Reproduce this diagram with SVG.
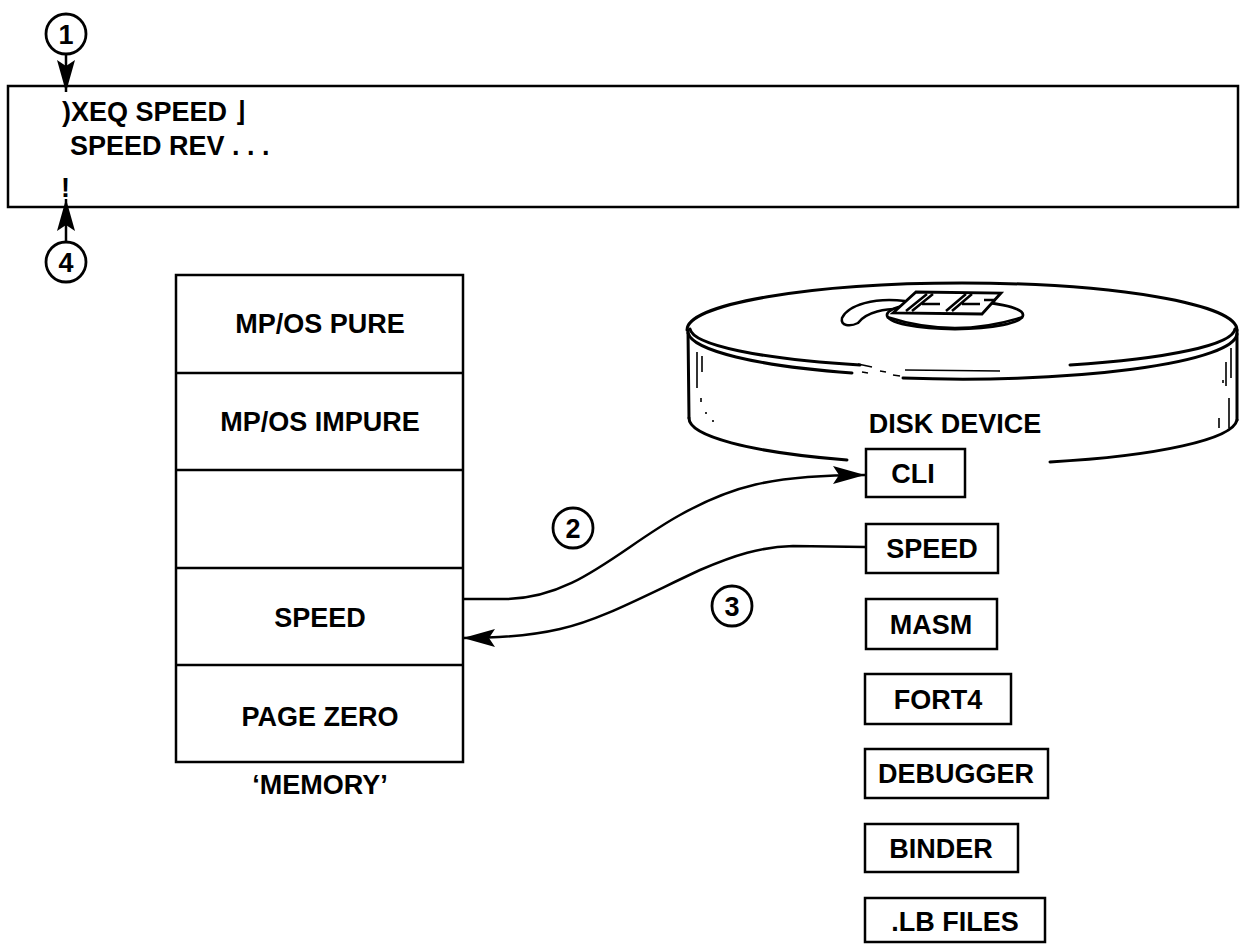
<svg xmlns="http://www.w3.org/2000/svg" width="1242" height="944" viewBox="0 0 1242 944">
  <defs>
    <marker id="arrow" markerUnits="userSpaceOnUse" markerWidth="32" markerHeight="18" refX="32" refY="9" orient="auto">
      <path d="M0,0 L32,9 L0,18 L6,9 z" fill="#000"/>
    </marker>
    <style>
      .box { fill: #fff; stroke: #000; stroke-width: 2.5; }
      .line { fill: none; stroke: #000; stroke-width: 2.5; }
      .thin { fill: none; stroke: #000; stroke-width: 1.6; }
      .disk { fill: none; stroke: #000; stroke-width: 3; stroke-linecap: round; }
      .lbl { font-family: "Liberation Sans", Arial, sans-serif; font-weight: bold; font-size: 27px; fill: #000; }
      .mid { text-anchor: middle; }
      .num { font-family: "Liberation Sans", Arial, sans-serif; font-weight: bold; font-size: 27px; fill: #000; text-anchor: middle; }
      .circ { fill: #fff; stroke: #000; stroke-width: 2.8; }
    </style>
  </defs>
  <rect width="1242" height="944" fill="#fff"/>

  <!-- console terminal -->
  <g id="console">
    <rect class="box" x="8" y="86" width="1230" height="121"/>
    <text class="lbl" x="62" y="121">)XEQ SPEED ⌋</text>
    <text class="lbl" x="70" y="155">SPEED REV . . .</text>
    <text class="lbl" x="61" y="197">!</text>
  </g>

  <!-- step markers -->
  <g id="step1">
    <circle class="circ" cx="66" cy="34" r="20"/>
    <text class="num" x="66" y="44">1</text>
  </g>
  <g id="step4">
    <circle class="circ" cx="66" cy="262" r="20"/>
    <text class="num" x="66" y="272">4</text>
  </g>
  <g id="step2">
    <circle class="circ" cx="573" cy="528" r="20"/>
    <text class="num" x="573" y="538">2</text>
  </g>
  <g id="step3">
    <circle class="circ" cx="732" cy="606" r="20"/>
    <text class="num" x="732" y="616">3</text>
  </g>

  <!-- memory map -->
  <g id="memory">
    <rect class="box" x="176" y="275" width="287" height="487"/>
    <line class="line" x1="176" y1="373" x2="463" y2="373"/>
    <line class="line" x1="176" y1="470" x2="463" y2="470"/>
    <line class="line" x1="176" y1="568" x2="463" y2="568"/>
    <line class="line" x1="176" y1="665" x2="463" y2="665"/>
    <text class="lbl mid" x="320" y="333">MP/OS PURE</text>
    <text class="lbl mid" x="320" y="431">MP/OS IMPURE</text>
    <text class="lbl mid" x="320" y="627">SPEED</text>
    <text class="lbl mid" x="320" y="726">PAGE ZERO</text>
    <text class="lbl mid" x="320" y="794">‘MEMORY’</text>
  </g>

  <!-- disk pack -->
  <g id="disk">
    <!-- top surface, back edge -->
    <path class="disk" d="M687,330 A275,47 0 0 1 1237,330"/>
    <!-- top surface, front edge (broken) -->
    <path class="disk" d="M690,329 A273,40 0 0 0 860,365"/>
    <path class="disk" d="M1070,365 A273,40 0 0 0 1235,329"/>
    <path class="thin" d="M905,370 L1000,371"/>
    <!-- rim lower edge -->
    <path class="disk" d="M688,333 A274,46 0 0 0 852,373"/>
    <path class="disk" d="M903,378 A274,46 0 0 0 1237,334"/>
    <path class="thin" d="M858,364 L872,367 M880,371 L886,372 M893,375 L900,376 M862,372 L868,373"/>
    <!-- sides -->
    <path class="disk" d="M688,330 L689,418"/>
    <path class="disk" d="M1237,330 L1237,420"/>
    <!-- bottom edge, interrupted by the label and the CLI box -->
    <path class="disk" d="M689,418 A274,46 0 0 0 847,460"/>
    <path class="disk" d="M1050,462 A274,46 0 0 0 1237,420"/>
    <!-- side shading -->
    <path class="thin" d="M697,352 L697,388 M702,356 L702,372 M701,398 L701,402 M706,412 L706,414 M713,420 L713,422 M1231,348 L1231,378 M1226,362 L1226,386 M1229,398 L1229,428 M1219,418 L1219,428 M1223,380 L1223,383"/>
    <!-- hub and handle -->
    <path class="line" d="M905,301 C875,297 848,305 842,318 C840,326 850,327 858,323 C866,312 885,308 906,309"/>
    <ellipse cx="955" cy="315" rx="68" ry="14" fill="#fff" stroke="#000" stroke-width="2.8"/>
    <path class="line" d="M887,317 Q955,339 1023,317"/>
    <path d="M893,313 L916,292 L1001,293 L982,314 z" fill="#fff" stroke="#000" stroke-width="2.8"/>
    <path class="line" d="M906,311 L927,294 M912,311 L933,294 M922,304 L940,304 M946,311 L966,294 M952,311 L972,294 M962,304 L980,304 M984,300 L996,300"/>
    <text class="lbl mid" x="955" y="433">DISK DEVICE</text>
  </g>

  <!-- files on disk -->
  <g id="file-cli">
    <rect class="box" x="866" y="449" width="99" height="48"/>
    <text class="lbl mid" x="913" y="483">CLI</text>
  </g>
  <g id="file-speed">
    <rect class="box" x="866" y="524" width="132" height="49"/>
    <text class="lbl mid" x="932" y="558">SPEED</text>
  </g>
  <g id="file-masm">
    <rect class="box" x="866" y="599" width="131" height="50"/>
    <text class="lbl mid" x="931" y="634">MASM</text>
  </g>
  <g id="file-fort4">
    <rect class="box" x="865" y="674" width="146" height="50"/>
    <text class="lbl mid" x="938" y="709">FORT4</text>
  </g>
  <g id="file-debugger">
    <rect class="box" x="865" y="749" width="183" height="49"/>
    <text class="lbl mid" x="956" y="783">DEBUGGER</text>
  </g>
  <g id="file-binder">
    <rect class="box" x="865" y="824" width="153" height="48"/>
    <text class="lbl mid" x="941" y="858">BINDER</text>
  </g>
  <g id="file-lb">
    <rect class="box" x="865" y="898" width="180" height="44"/>
    <text class="lbl mid" x="955" y="931">.LB FILES</text>
  </g>

  <!-- connectors -->
  <g id="connectors">
    <path class="line" d="M66,55 L66,92" marker-end="url(#arrow)"/>
    <path class="line" d="M66,241 L66,199" marker-end="url(#arrow)"/>
    <path class="line" d="M463,599 L505,599 C575,599 620,548 680,515 C730,487 770,475 865,475" marker-end="url(#arrow)"/>
    <path class="line" d="M866,547 L793,546 C760,547 735,555 700,570 C640,598 600,620 560,629 C530,636 500,638 463,638" marker-end="url(#arrow)"/>
  </g>
</svg>
